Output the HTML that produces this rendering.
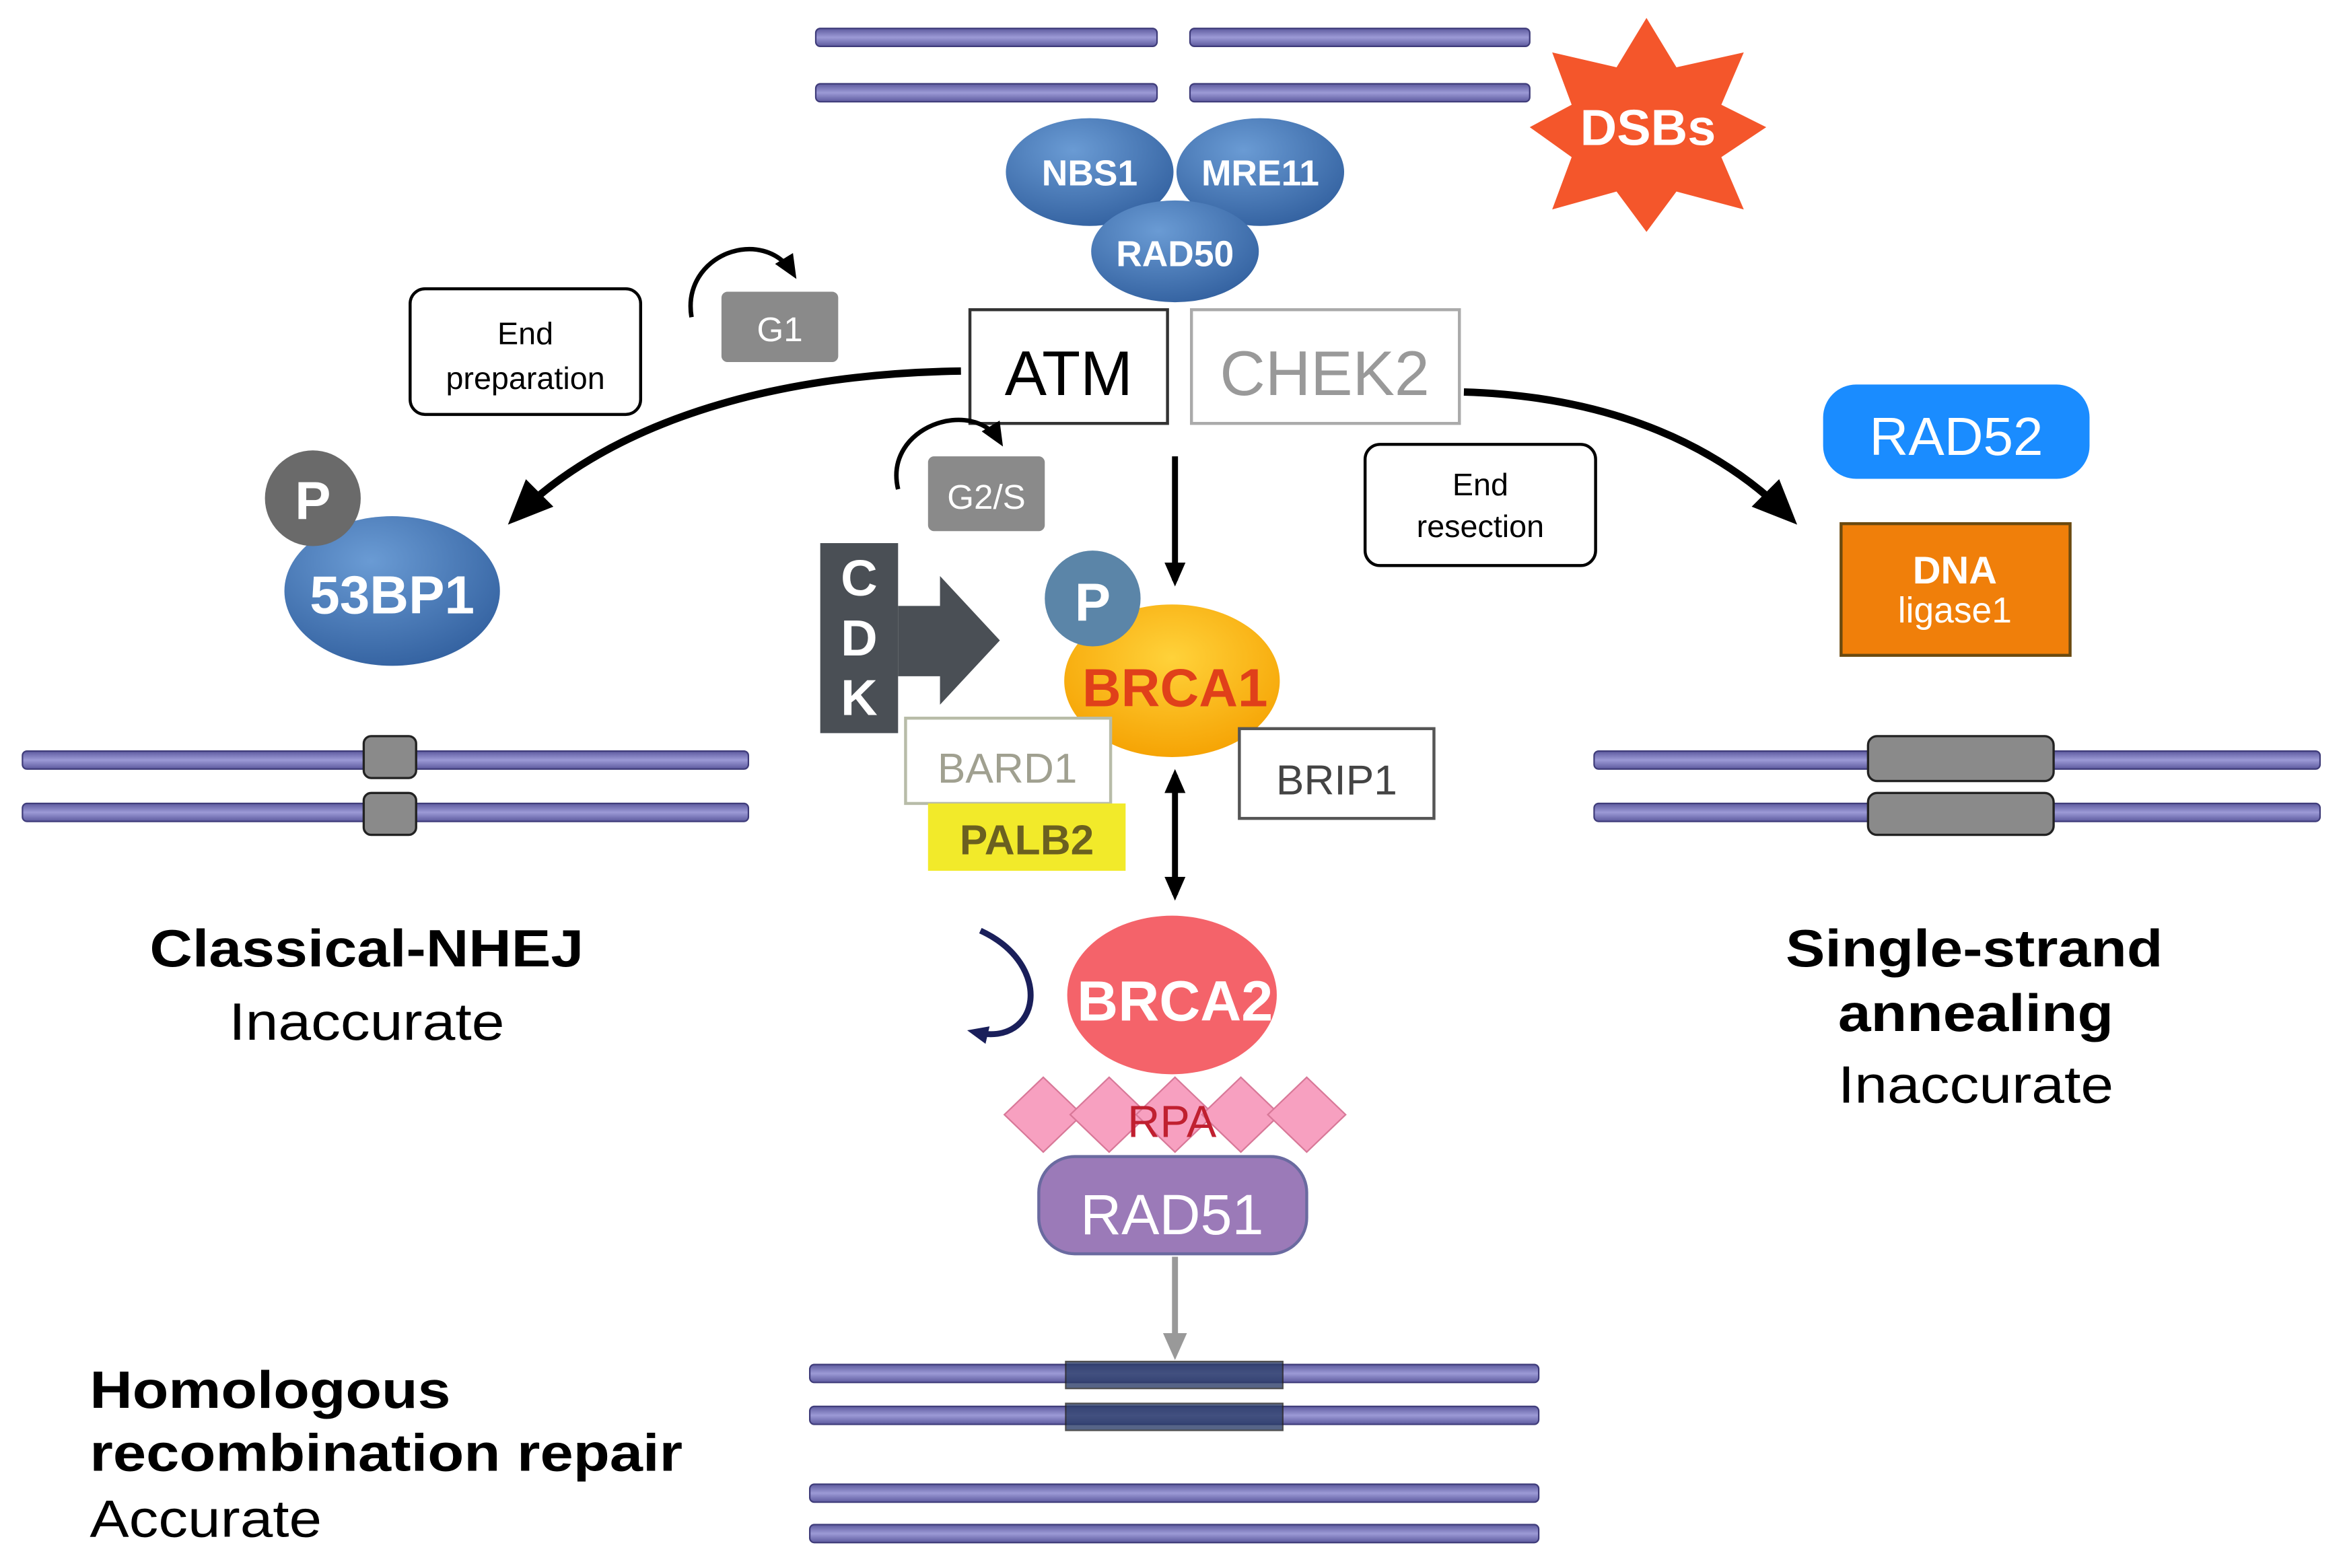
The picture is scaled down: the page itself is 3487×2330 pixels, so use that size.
<!DOCTYPE html>
<html><head><meta charset="utf-8"><style>html,body{margin:0;padding:0;background:#fff}svg{display:block}</style></head><body>
<svg width="3487" height="2330" viewBox="0 0 1568 1048" preserveAspectRatio="none" xmlns="http://www.w3.org/2000/svg" font-family="Liberation Sans, sans-serif">
<defs>
<linearGradient id="dna" x1="0" y1="0" x2="0" y2="1"><stop offset="0" stop-color="#5d5a9e"/><stop offset="0.5" stop-color="#9c9ad6"/><stop offset="1" stop-color="#5d5a9e"/></linearGradient>
<radialGradient id="blue" cx="0.4" cy="0.3" r="0.8"><stop offset="0" stop-color="#6a9bd4"/><stop offset="1" stop-color="#2f5d9c"/></radialGradient>
<radialGradient id="brca1" cx="0.5" cy="0.35" r="0.7"><stop offset="0" stop-color="#ffd23a"/><stop offset="1" stop-color="#f5a000"/></radialGradient>
<marker id="big" markerWidth="30" markerHeight="26" refX="22" refY="13" orient="auto" markerUnits="userSpaceOnUse"><path d="M0,0 L30,13 L0,26 z" fill="#000"/></marker>
<marker id="sm" markerWidth="16" markerHeight="14" refX="12" refY="7" orient="auto" markerUnits="userSpaceOnUse"><path d="M0,0 L16,7 L0,14 z" fill="#000"/></marker>
<marker id="smr" markerWidth="16" markerHeight="14" refX="4" refY="7" orient="auto" markerUnits="userSpaceOnUse"><path d="M16,0 L0,7 L16,14 z" fill="#000"/></marker>
<marker id="gray" markerWidth="18" markerHeight="16" refX="12" refY="8" orient="auto" markerUnits="userSpaceOnUse"><path d="M0,0 L18,8 L0,16 z" fill="#999"/></marker>
<marker id="navy" markerWidth="14" markerHeight="12" refX="8" refY="6" orient="auto" markerUnits="userSpaceOnUse"><path d="M0,0 L14,6 L0,12 z" fill="#1a1f5a"/></marker>
</defs>
<g stroke="#3f3c7a" stroke-width="1" fill="url(#dna)">
<rect x="545" y="19" width="228" height="12" rx="3"/><rect x="795" y="19" width="227" height="12" rx="3"/>
<rect x="545" y="56" width="228" height="12" rx="3"/><rect x="795" y="56" width="227" height="12" rx="3"/>
<rect x="15" y="502" width="485" height="12" rx="3"/><rect x="15" y="537" width="485" height="12" rx="3"/>
<rect x="1065" y="502" width="485" height="12" rx="3"/><rect x="1065" y="537" width="485" height="12" rx="3"/>
<rect x="541" y="912" width="487" height="12" rx="3"/><rect x="541" y="940" width="487" height="12" rx="3"/>
<rect x="541" y="992" width="487" height="12" rx="3"/><rect x="541" y="1019" width="487" height="12" rx="3"/>
</g>
<g fill="#8a8a8a" stroke="#222" stroke-width="1.5">
<rect x="243" y="492" width="35" height="28" rx="5"/><rect x="243" y="530" width="35" height="28" rx="5"/>
<rect x="1248" y="492" width="124" height="30" rx="6"/><rect x="1248" y="530" width="124" height="28" rx="6"/>
</g>
<rect x="712" y="910" width="145" height="18" fill="#2c3e6a" opacity="0.8" stroke="#222"/>
<rect x="712" y="938" width="145" height="18" fill="#2c3e6a" opacity="0.8" stroke="#222"/>
<polygon points="1100,12 1120,45 1165,35 1150,70 1180,85 1150,105 1165,140 1120,128 1100,155 1080,128 1037,140 1050,105 1022,85 1050,70 1037,35 1080,45" fill="#f4562b"/>
<text x="1101" y="97" font-size="34" font-weight="bold" fill="#fff" text-anchor="middle">DSBs</text>
<ellipse cx="728" cy="115" rx="56" ry="36" fill="url(#blue)"/>
<ellipse cx="842" cy="115" rx="56" ry="36" fill="url(#blue)"/>
<ellipse cx="785" cy="168" rx="56" ry="34" fill="url(#blue)"/>
<g font-size="24" font-weight="bold" fill="#fff" text-anchor="middle">
<text x="728" y="124">NBS1</text><text x="842" y="124">MRE11</text><text x="785" y="178">RAD50</text></g>
<rect x="274" y="193" width="154" height="84" rx="10" fill="#fff" stroke="#000" stroke-width="2"/>
<text x="351" y="230" font-size="21" text-anchor="middle">End</text><text x="351" y="260" font-size="21" text-anchor="middle">preparation</text>
<rect x="482" y="195" width="78" height="47" rx="4" fill="#8a8a8a"/>
<text x="521" y="228" font-size="23" fill="#fff" text-anchor="middle">G1</text>
<path d="M462,212 C455,170 510,150 530,183" fill="none" stroke="#000" stroke-width="3" marker-end="url(#sm)"/>
<rect x="648" y="207" width="132" height="76" fill="#fff" stroke="#333" stroke-width="2"/>
<text x="714" y="264" font-size="42" text-anchor="middle">ATM</text>
<rect x="796" y="207" width="179" height="76" fill="#fff" stroke="#aaa" stroke-width="2"/>
<text x="885" y="264" font-size="42" fill="#999" text-anchor="middle">CHEK2</text>
<rect x="620" y="305" width="78" height="50" rx="4" fill="#8a8a8a"/>
<text x="659" y="340" font-size="23" fill="#fff" text-anchor="middle">G2/S</text>
<path d="M600,327 C590,285 650,265 668,295" fill="none" stroke="#000" stroke-width="3" marker-end="url(#sm)"/>
<rect x="912" y="297" width="154" height="81" rx="10" fill="#fff" stroke="#000" stroke-width="2"/>
<text x="989" y="331" font-size="21" text-anchor="middle">End</text><text x="989" y="359" font-size="21" text-anchor="middle">resection</text>
<path d="M642,248 C500,250 400,290 345,345" fill="none" stroke="#000" stroke-width="5" marker-end="url(#big)"/>
<path d="M978,262 C1080,265 1150,300 1195,345" fill="none" stroke="#000" stroke-width="5" marker-end="url(#big)"/>
<rect x="1218" y="257" width="178" height="63" rx="22" fill="#1a8cff"/>
<text x="1307" y="304" font-size="36" fill="#fff" text-anchor="middle">RAD52</text>
<rect x="1230" y="350" width="153" height="88" fill="#f07f0a" stroke="#6b4a10" stroke-width="2"/>
<text x="1306" y="390" font-size="26" font-weight="bold" fill="#fff" text-anchor="middle">DNA</text>
<text x="1306" y="416" font-size="24" fill="#fff" text-anchor="middle">ligase1</text>
<ellipse cx="262" cy="395" rx="72" ry="50" fill="url(#blue)"/>
<circle cx="209" cy="333" r="32" fill="#6a6a6a"/>
<text x="209" y="347" font-size="36" font-weight="bold" fill="#fff" text-anchor="middle">P</text>
<text x="262" y="410" font-size="36" font-weight="bold" fill="#fff" text-anchor="middle">53BP1</text>
<rect x="548" y="363" width="52" height="127" fill="#4a4f55"/>
<g font-size="34" font-weight="bold" fill="#fff" text-anchor="middle"><text x="574" y="398">C</text><text x="574" y="438">D</text><text x="574" y="478">K</text></g>
<polygon points="600,405 628,405 628,385 668,428 628,471 628,452 600,452" fill="#4a4f55"/>
<line x1="785" y1="305" x2="785" y2="388" stroke="#000" stroke-width="4" marker-end="url(#sm)"/>
<line x1="785" y1="518" x2="785" y2="598" stroke="#000" stroke-width="4" marker-end="url(#sm)" marker-start="url(#smr)"/>
<ellipse cx="783" cy="455" rx="72" ry="51" fill="url(#brca1)"/>
<circle cx="730" cy="400" r="32" fill="#5b85a8"/>
<text x="730" y="415" font-size="36" font-weight="bold" fill="#fff" text-anchor="middle">P</text>
<text x="785" y="472" font-size="36" font-weight="bold" fill="#e0401a" text-anchor="middle">BRCA1</text>
<rect x="605" y="480" width="137" height="57" fill="#fff" stroke="#b8bca8" stroke-width="2"/>
<text x="673" y="523" font-size="28" fill="#a0a090" text-anchor="middle">BARD1</text>
<rect x="620" y="537" width="132" height="45" fill="#f2ea2a"/>
<text x="686" y="571" font-size="28" font-weight="bold" fill="#6b6020" text-anchor="middle">PALB2</text>
<rect x="828" y="487" width="130" height="60" fill="#fff" stroke="#555" stroke-width="2"/>
<text x="893" y="531" font-size="28" fill="#444" text-anchor="middle">BRIP1</text>
<path d="M655,622 C705,645 695,700 652,690" fill="none" stroke="#1a1f5a" stroke-width="4" marker-end="url(#navy)"/>
<ellipse cx="783" cy="665" rx="70" ry="53" fill="#f4636a"/>
<text x="785" y="682" font-size="38" font-weight="bold" fill="#fff" text-anchor="middle">BRCA2</text>
<g fill="#f7a0c0" stroke="#d87898" stroke-width="1">
<polygon points="671,745 697,720 723,745 697,770"/><polygon points="715,745 741,720 767,745 741,770"/>
<polygon points="759,745 785,720 811,745 785,770"/><polygon points="803,745 829,720 855,745 829,770"/>
<polygon points="847,745 873,720 899,745 873,770"/>
</g>
<text x="783" y="760" font-size="30" fill="#c02030" text-anchor="middle">RPA</text>
<rect x="694" y="773" width="179" height="65" rx="24" fill="#9b7ab8" stroke="#6a6aa0" stroke-width="2"/>
<text x="783" y="825" font-size="38" fill="#fff" text-anchor="middle">RAD51</text>
<line x1="785" y1="840" x2="785" y2="903" stroke="#999" stroke-width="4" marker-end="url(#gray)"/>
<text x="100" y="646" font-size="35" font-weight="bold" textLength="290" lengthAdjust="spacingAndGlyphs">Classical-NHEJ</text>
<text x="153" y="695" font-size="35" textLength="184" lengthAdjust="spacingAndGlyphs">Inaccurate</text>
<text x="1193" y="646" font-size="35" font-weight="bold" textLength="252" lengthAdjust="spacingAndGlyphs">Single-strand</text>
<text x="1228" y="689" font-size="35" font-weight="bold" textLength="184" lengthAdjust="spacingAndGlyphs">annealing</text>
<text x="1228" y="737" font-size="35" textLength="184" lengthAdjust="spacingAndGlyphs">Inaccurate</text>
<text x="60" y="941" font-size="35" font-weight="bold" textLength="241" lengthAdjust="spacingAndGlyphs">Homologous</text>
<text x="60" y="983" font-size="35" font-weight="bold" textLength="396" lengthAdjust="spacingAndGlyphs">recombination repair</text>
<text x="60" y="1027" font-size="35" textLength="155" lengthAdjust="spacingAndGlyphs">Accurate</text>
</svg>
</body></html>
